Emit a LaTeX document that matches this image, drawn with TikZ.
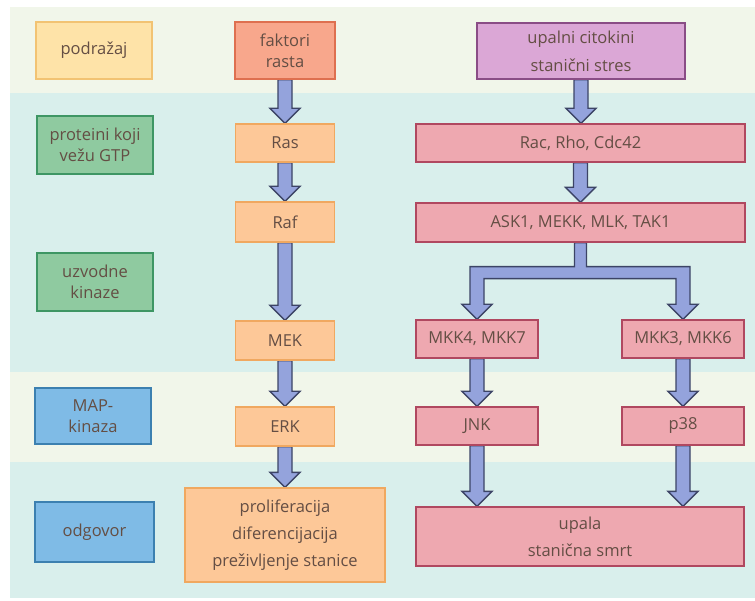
\documentclass[tikz,border=0pt]{standalone}
\usepackage{fontspec}
\setmainfont{Open Sans}
\usetikzlibrary{calc}
\pgfdeclarelayer{back}
\pgfdeclarelayer{mid}
\pgfsetlayers{back,mid,main}
\definecolor{bandA}{RGB}{241,246,234}
\definecolor{bandB}{RGB}{217,239,236}
\definecolor{txt}{RGB}{100,78,68}
\definecolor{yelF}{RGB}{254,227,168}
\definecolor{yelD}{RGB}{242,195,115}
\definecolor{grnF}{RGB}{143,202,160}
\definecolor{grnD}{RGB}{62,150,100}
\definecolor{bluF}{RGB}{127,187,230}
\definecolor{bluD}{RGB}{60,128,176}
\definecolor{salF}{RGB}{248,167,140}
\definecolor{salD}{RGB}{222,112,80}
\definecolor{oraF}{RGB}{253,200,152}
\definecolor{oraD}{RGB}{240,168,96}
\definecolor{purF}{RGB}{219,167,214}
\definecolor{purD}{RGB}{138,77,134}
\definecolor{pinF}{RGB}{238,168,176}
\definecolor{pinD}{RGB}{176,72,96}
\definecolor{arrF}{RGB}{148,163,220}
\definecolor{arrD}{RGB}{60,68,102}
\tikzset{
  box/.style={draw, line width=1.4pt, inner sep=0pt, align=center, text=txt,
    font=\fontsize{16.5}{21}\selectfont},
  label yel/.style={box, fill=yelF, draw=yelD},
  label grn/.style={box, fill=grnF, draw=grnD},
  label blu/.style={box, fill=bluF, draw=bluD},
  salbox/.style={box, fill=salF, draw=salD},
  orabox/.style={box, fill=oraF, draw=oraD},
  purbox/.style={box, fill=purF, draw=purD},
  pinbox/.style={box, fill=pinF, draw=pinD},
  fatarr/.style={fill=arrF, draw=arrD, line width=1.4pt, line join=miter}
}
\newcommand{\blockarrow}[2]{%
  \begin{pgfonlayer}{mid}
  \filldraw[fatarr] let \p1=(#1.south), \p2=(#2.north) in
    (\x1-7pt,\y1) -- (\x1-7pt,\y2+15pt) -- (\x1-15pt,\y2+15pt) -- (\x1,\y2)
    -- (\x1+15pt,\y2+15pt) -- (\x1+7pt,\y2+15pt) -- (\x1+7pt,\y1) -- cycle;
  \end{pgfonlayer}}
\begin{document}
\begin{tikzpicture}[x=1pt,y=-1pt]
\useasboundingbox (0,0) rectangle (755,601);
\begin{pgfonlayer}{back}
  \fill[white] (0,0) rectangle (755,601);
  \fill[bandA] (10,7) rectangle (755,93);
  \fill[bandB] (10,93) rectangle (755,372);
  \fill[bandA] (10,372) rectangle (755,462);
  \fill[bandB] (10,462) rectangle (755,598);
\end{pgfonlayer}
% left labels
\node[label yel, minimum width=116pt, minimum height=57pt] (pod) at (94,50.5) {podražaj};
\node[label grn, minimum width=116pt, minimum height=58pt] (gtp) at (95,145) {proteini koji\\vežu GTP};
\node[label grn, minimum width=116pt, minimum height=58pt] (uzv) at (95,282) {uzvodne\\kinaze};
\node[label blu, minimum width=116pt, minimum height=56pt] (map) at (93,416) {MAP-\\kinaza};
\node[label blu, minimum width=119pt, minimum height=60pt] (odg) at (94.5,532) {odgovor};
% middle column
\node[salbox, minimum width=100pt, minimum height=57pt] (fak) at (285,50.5) {faktori\\rasta};
\node[orabox, minimum width=99pt, minimum height=38pt] (ras) at (285,143) {Ras};
\node[orabox, minimum width=99pt, minimum height=40pt] (raf) at (285,222) {Raf};
\node[orabox, minimum width=99pt, minimum height=39pt] (mek) at (285,340.5) {MEK};
\node[orabox, minimum width=99pt, minimum height=39pt] (erk) at (285,426.5) {ERK};
\node[orabox, minimum width=200pt, minimum height=94pt] (pro) at (285,535)
  {proliferacija\\[6pt]diferencijacija\\[6pt]preživljenje stanice};
% right column
\node[purbox, minimum width=208pt, minimum height=56pt] (upc) at (581,51)
  {upalni citokini\\[7pt]stanični stres};
\node[pinbox, minimum width=329pt, minimum height=38pt] (rac) at (580.5,143) {Rac, Rho, Cdc42};
\node[pinbox, minimum width=329pt, minimum height=39pt] (ask) at (580.5,222.5) {ASK1, MEKK, MLK, TAK1};
\node[pinbox, minimum width=122pt, minimum height=38pt] (mkka) at (477,339) {MKK4, MKK7};
\node[pinbox, minimum width=122pt, minimum height=38pt] (mkkb) at (683,339) {MKK3, MKK6};
\node[pinbox, minimum width=122pt, minimum height=38pt] (jnk) at (477,426) {JNK};
\node[pinbox, minimum width=122pt, minimum height=38pt] (p38) at (683,426) {p38};
\node[pinbox, minimum width=328pt, minimum height=59pt] (upa) at (580,536.5)
  {upala\\[6pt]stanična smrt};
% arrows
\blockarrow{fak}{ras}
\blockarrow{ras}{raf}
\blockarrow{raf}{mek}
\blockarrow{mek}{erk}
\blockarrow{erk}{pro}
\blockarrow{upc}{rac}
\blockarrow{rac}{ask}
\blockarrow{mkka}{jnk}
\blockarrow{mkkb}{p38}
\blockarrow{jnk}{upa}
\blockarrow{p38}{upa}
\begin{pgfonlayer}{mid}
\filldraw[fatarr] let \p1=(ask.south), \p2=(mkka.north), \p3=(mkkb.north) in
  (\x1-6pt,\y1) -- (\x1-6pt,\y1-24pt) -- (\x2-7pt,\y1-24pt) -- (\x2-7pt,\y2+15pt)
  -- (\x2-15pt,\y2+15pt) -- (\x2,\y2) -- (\x2+15pt,\y2+15pt) -- (\x2+7pt,\y2+15pt)
  -- (\x2+7pt,\y1-36pt) -- (\x3-7pt,\y1-36pt) -- (\x3-7pt,\y3+15pt)
  -- (\x3-15pt,\y3+15pt) -- (\x3,\y3) -- (\x3+15pt,\y3+15pt) -- (\x3+7pt,\y3+15pt)
  -- (\x3+7pt,\y1-24pt) -- (\x1+6pt,\y1-24pt) -- (\x1+6pt,\y1) -- cycle;
\end{pgfonlayer}
\end{tikzpicture}
\end{document}
